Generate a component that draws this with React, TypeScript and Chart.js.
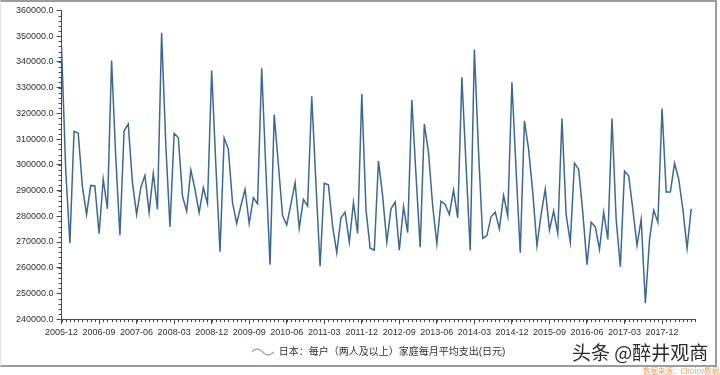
import React, { useEffect, useRef } from "react";
import { Chart, registerables } from "chart.js";

Chart.register(...registerables);

// ---- data ----
const START_YEAR = 2005;
const START_MONTH = 12;
const SERIES_NAME = "日本：每户（两人及以上）家庭每月平均支出(日元)";

// monthly values, 2005-12 .. 2018-07 (trailing null = empty slot 2018-08)
const VALUES_2005_2008: (number | null)[] = [
  346000, // 2005-12
  298000, 269500, 313000, 312300, 291500, 280700, 292000, 291800, 273200, 294400, 282900, 340500, // 2006
  303000, 272600, 313200, 315800, 293100, 280700, 291100, 295900, 281400, 296700, 282700, 351300, // 2007
  308000, 275800, 312200, 310600, 287900, 282000, 298000, 290500, 281400, 291100, 284900, 336600, // 2008
];
const VALUES_2009_2012: (number | null)[] = [
  300000, 266200, 310400, 306100, 285300, 277200, 284000, 290500, 277200, 287200, 284900, 337500, // 2009
  298000, 261200, 319500, 300000, 280300, 276600, 284600, 293100, 275300, 286600, 284000, 326600, // 2010
  293000, 260600, 292800, 292200, 276200, 265800, 279400, 281600, 269900, 285300, 273300, 327500, // 2011
  282700, 267700, 266800, 301500, 287900, 269900, 282900, 285500, 266800, 283700, 273600, 325200, // 2012
];
const VALUES_2013_2018: (number | null)[] = [
  296000, 268000, 315800, 304800, 284000, 269300, 285900, 284600, 280700, 290200, 279400, 334000, // 2013
  300000, 266700, 344800, 305000, 271400, 272500, 279800, 281600, 275100, 288100, 280100, 332100, // 2014
  298000, 265800, 317100, 306100, 289200, 268600, 280700, 290500, 274600, 282000, 273300, 318000, // 2015
  280700, 269900, 300600, 298300, 281400, 261200, 277700, 275900, 267100, 281600, 271000, 318000, // 2016
  278800, 260300, 297500, 295700, 282700, 268700, 278800, 246200, 271000, 282400, 277700, 321900, // 2017
  289400, 289400, 300600, 294400, 282700, 267500, 282900, // 2018-01..07
  null, // 2018-08 (axis end)
];
const VALUES = [...VALUES_2005_2008, ...VALUES_2009_2012, ...VALUES_2013_2018];

const LABEL_EVERY = 9; // months between x tick labels
const Y_MIN = 240000;
const Y_MAX = 360000;
const Y_STEP = 10000;
const Y_MINOR = 2000;

function buildMonths(n: number): string[] {
  const out: string[] = [];
  let y = START_YEAR;
  let m = START_MONTH;
  for (let i = 0; i < n; i++) {
    out.push(`${y}-${String(m).padStart(2, "0")}`);
    m++;
    if (m > 12) { m = 1; y++; }
  }
  return out;
}
const MONTHS = buildMonths(VALUES.length);

// ---- styles ----
const LINE_COLOR = "#3c6894";
const AXIS_COLOR = "#4a4a4a";
const TEXT_COLOR = "#333333";
const FONT = "'Liberation Sans', 'Noto Sans CJK SC', sans-serif";

function makeWaveIcon(): HTMLCanvasElement {
  const c = document.createElement("canvas");
  c.width = 22;
  c.height = 10;
  const g = c.getContext("2d")!;
  g.strokeStyle = "#7f9bb8";
  g.lineWidth = 1.2;
  g.beginPath();
  for (let x = 0; x <= 22; x += 0.5) {
    const yy = 5 - 3 * Math.sin((x / 22) * Math.PI * 2);
    if (x === 0) g.moveTo(x, yy);
    else g.lineTo(x, yy);
  }
  g.stroke();
  return c;
}

const minorTicksPlugin = {
  id: "minorTicks",
  afterDraw(chart: any) {
    const { ctx, scales } = chart;
    const x = scales.x;
    const y = scales.y;
    ctx.save();
    ctx.strokeStyle = AXIS_COLOR;
    ctx.lineWidth = 1;
    ctx.beginPath();
    const n = chart.data.labels.length;
    for (let i = 0; i < n; i++) {
      const px = Math.round(x.getPixelForValue(i)) + 0.5;
      ctx.moveTo(px, x.top);
      ctx.lineTo(px, x.top + 3);
    }
    for (let v = Y_MIN; v <= Y_MAX; v += Y_MINOR) {
      const py = Math.round(y.getPixelForValue(v)) + 0.5;
      ctx.moveTo(y.right - 3, py);
      ctx.lineTo(y.right, py);
    }
    ctx.stroke();
    ctx.restore();
  },
};

export default function App() {
  const ref = useRef<HTMLCanvasElement>(null);

  useEffect(() => {
    if (!ref.current) return;
    const chart = new Chart(ref.current, {
      type: "line",
      data: {
        labels: MONTHS,
        datasets: [
          {
            label: SERIES_NAME,
            data: VALUES,
            borderColor: LINE_COLOR,
            backgroundColor: LINE_COLOR,
            borderWidth: 1.5,
            pointRadius: 0,
            pointHoverRadius: 0,
            tension: 0,
            fill: false,
          },
        ],
      },
      options: {
        animation: false,
        responsive: false,
        maintainAspectRatio: false,
        layout: { padding: { top: 7, left: 13, right: 18.6, bottom: 0 } },
        scales: {
          x: {
            type: "category",
            offset: false,
            afterBuildTicks: (scale: any) => {
              scale.ticks = scale.ticks.filter((t: any) => t.value % LABEL_EVERY === 0);
            },
            ticks: {
              autoSkip: false,
              maxRotation: 0,
              minRotation: 0,
              padding: 3,
              color: TEXT_COLOR,
              font: { family: FONT, size: 9 },
            },
            grid: {
              display: true,
              drawOnChartArea: false,
              drawTicks: true,
              tickLength: 5,
              tickColor: AXIS_COLOR,
              color: AXIS_COLOR,
            },
            border: { display: true, color: AXIS_COLOR, width: 1 },
          },
          y: {
            type: "linear",
            min: Y_MIN,
            max: Y_MAX,
            ticks: {
              stepSize: Y_STEP,
              padding: 3,
              color: TEXT_COLOR,
              font: { family: FONT, size: 9 },
              callback: (v: any) => Number(v).toFixed(1),
            },
            grid: {
              display: true,
              drawOnChartArea: false,
              drawTicks: true,
              tickLength: 5,
              tickColor: AXIS_COLOR,
              color: AXIS_COLOR,
            },
            border: { display: true, color: AXIS_COLOR, width: 1 },
          },
        },
        plugins: {
          legend: {
            display: true,
            position: "bottom",
            fullSize: false,
            labels: {
              usePointStyle: true,
              pointStyle: makeWaveIcon() as any,
              pointStyleWidth: 22,
              padding: 6,
              color: TEXT_COLOR,
              font: { family: FONT, size: 10 },
            },
          },
          tooltip: { enabled: false },
        },
      },
      plugins: [minorTicksPlugin],
    });
    return () => chart.destroy();
  }, []);

  return (
    <div
      style={{
        position: "absolute",
        left: 0,
        top: 0,
        width: 720,
        height: 375,
        background: "#ffffff",
        overflow: "hidden",
        fontFamily: FONT,
      }}
    >
      <div
        style={{
          position: "absolute",
          left: 0,
          top: 0,
          width: 717,
          height: 367,
          boxSizing: "border-box",
          borderTop: "2px solid #9c9c9c",
          borderRight: "2px solid #9c9c9c",
          borderBottom: "2px solid #9c9c9c",
          borderLeft: "1px solid #e2e2e2",
        }}
      />
      <canvas
        ref={ref}
        width={714}
        height={365}
        style={{ position: "absolute", left: 0, top: 2, width: 714, height: 365 }}
      />
      <div
        style={{
          position: "absolute",
          left: 572,
          top: 339,
          fontSize: 19,
          lineHeight: "26px",
          color: "#2b2b2b",
          fontFamily: "'Noto Sans CJK SC', sans-serif",
          whiteSpace: "nowrap",
        }}
      >
        头条 @醉井观商
      </div>
      <div
        style={{
          position: "absolute",
          left: 643,
          top: 366,
          fontSize: 7.5,
          lineHeight: "9px",
          color: "#f2a15f",
          fontFamily: "'Noto Sans CJK SC', sans-serif",
          whiteSpace: "nowrap",
        }}
      >
        数据来源：Choice数据
      </div>
    </div>
  );
}
